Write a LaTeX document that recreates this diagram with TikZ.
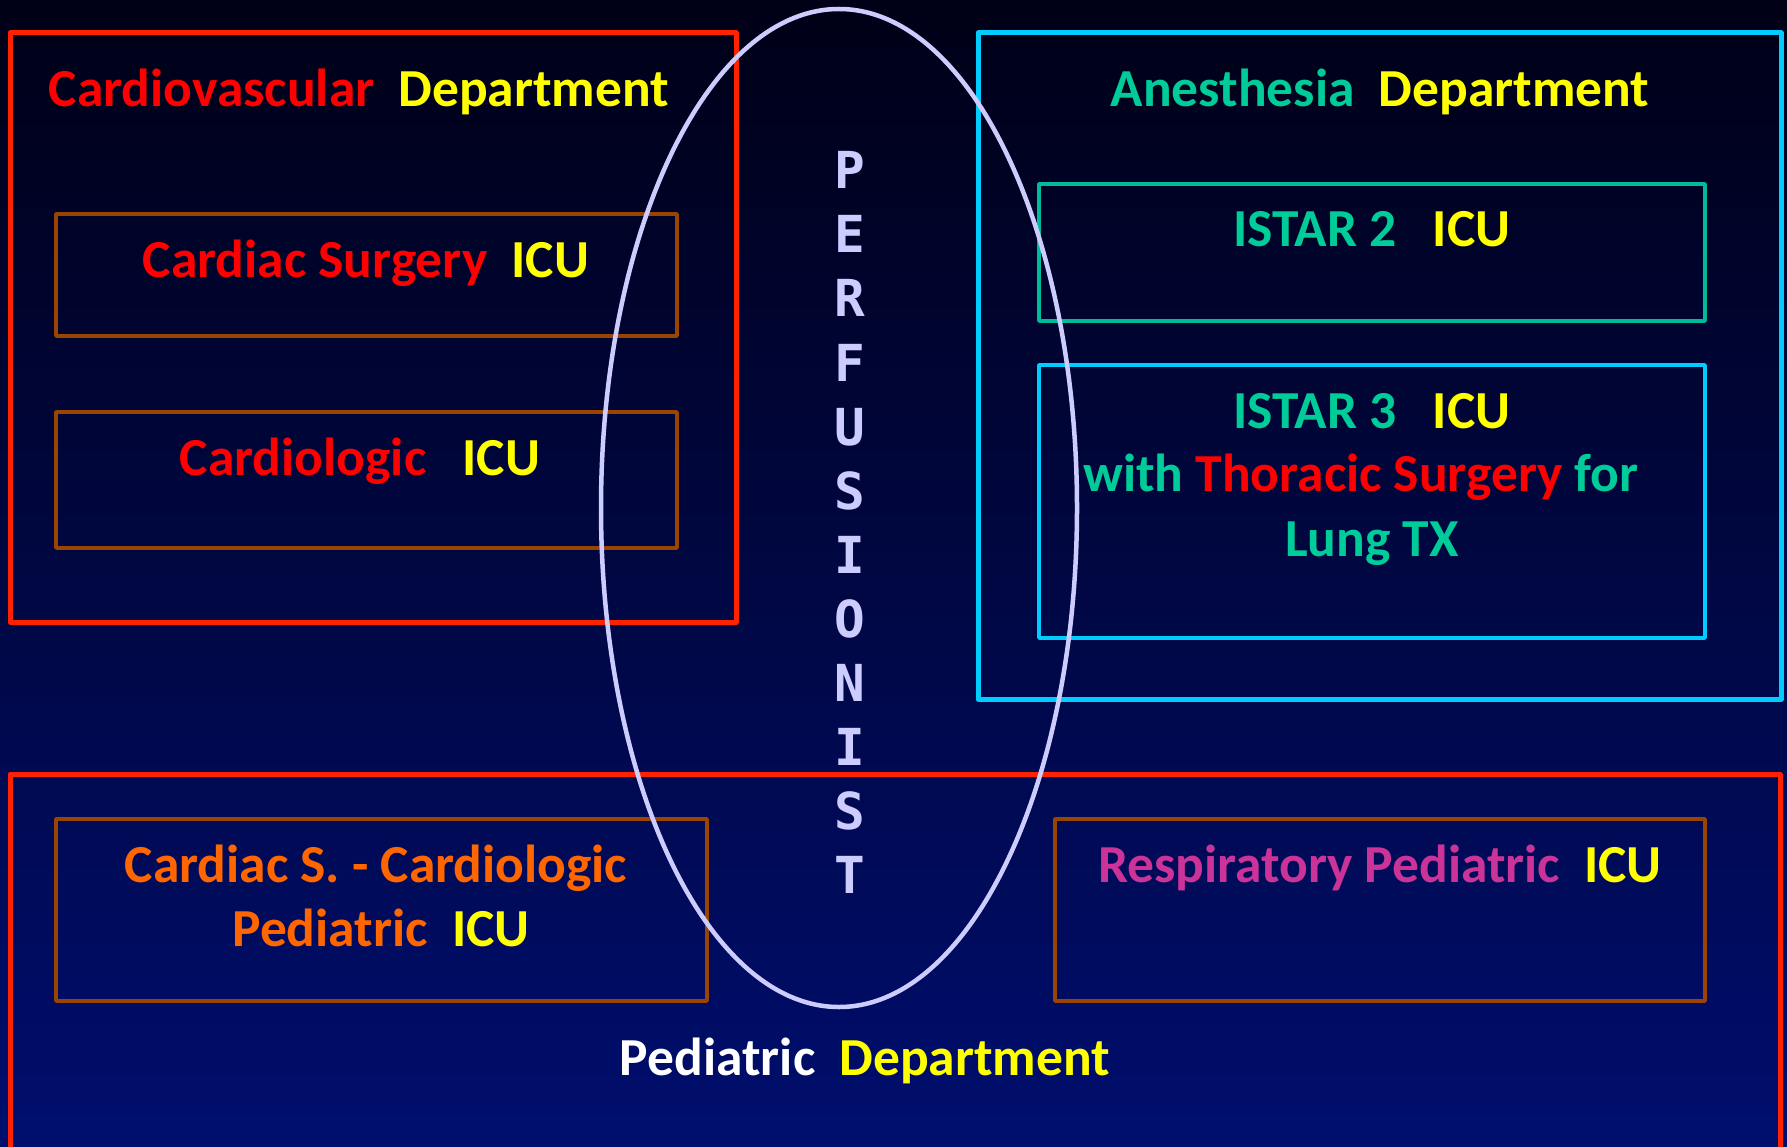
\documentclass[tikz,border=0pt]{standalone}
\usepackage{fontspec}
\setmainfont{Carlito}
\newfontfamily\perffont{DejaVu Sans Mono}
\usepackage{tikz}
\usetikzlibrary{shapes.geometric}

\begin{document}
\begin{tikzpicture}[line cap=round,line join=round,x=1pt,y=-1pt,
  deptbox/.style={draw=#1,line width=5pt,inner sep=0pt},
  icubox/.style={draw=#1,line width=3.5pt,inner sep=0pt},
  lbl/.style={anchor=base,inner sep=0pt,font=\bfseries\fontsize{53.5}{64}\selectfont},
  perfletter/.style={anchor=base,inner sep=0pt,color=ccccff,font=\perffont\bfseries\fontsize{51}{60}\selectfont}]
\definecolor{qqqqrw}{rgb}{0.,0.,0.0862745098}
\definecolor{qqreww}{rgb}{0.,0.0549019607,0.4313725490}
\definecolor{ffqqqq}{rgb}{1.,0.,0.}
\definecolor{ffffqq}{rgb}{1.,1.,0.}
\definecolor{qqcczz}{rgb}{0.,0.8,0.6}
\definecolor{ffwwqq}{rgb}{1.,0.4,0.}
\definecolor{ccttzz}{rgb}{0.8,0.2,0.6}
\definecolor{ffsqqq}{rgb}{1.,0.1333333333,0.}
\definecolor{zzttqq}{rgb}{0.6,0.2666666666,0.}
\definecolor{qqccff}{rgb}{0.,0.8,1.}
\definecolor{qqbbzz}{rgb}{0.,0.7333333333,0.6}
\definecolor{ccccff}{rgb}{0.8,0.8,1.}
\useasboundingbox (0,0) rectangle (1787,1147);
\clip (0,0) rectangle (1787,1147);
\fill[top color=qqqqrw,bottom color=qqreww] (0,0) rectangle (1787,1147);
% department boxes
\node[deptbox=ffsqqq,minimum width=726,minimum height=589] (cardio) at (373,327.5) {};
\node[deptbox=qqccff,minimum width=803,minimum height=666] (anest) at (1379.5,366) {};
\node[deptbox=ffsqqq,minimum width=1770,minimum height=386] (pedia) at (895,967) {};
% icu boxes
\node[icubox=zzttqq,minimum width=621,minimum height=122] (csbox) at (366.5,275) {};
\node[icubox=zzttqq,minimum width=621,minimum height=136] (clbox) at (366.5,480) {};
\node[icubox=qqbbzz,minimum width=666,minimum height=137] (istartwo) at (1372,252.5) {};
\node[icubox=qqccff,minimum width=666,minimum height=273] (istarthree) at (1372,501.5) {};
\node[icubox=zzttqq,minimum width=651,minimum height=182] (cpbox) at (381.5,910) {};
\node[icubox=zzttqq,minimum width=650,minimum height=182] (rpbox) at (1380,910) {};
% perfusionist
\node[draw=ccccff,line width=4.5pt,ellipse,inner sep=0pt,minimum width=476,minimum height=998] (perf) at (839,508) {};
\foreach \ch [count=\i from 0] in {P,E,R,F,U,S,I,O,N,I,S,T}
  \node[perfletter] (perf\i) at (850,189+64*\i) {\ch};
% labels
\node[lbl] (cvtitle) at (359,107) {\textcolor{ffqqqq}{Cardiovascular}~~\textcolor{ffffqq}{Department}};
\node[lbl] (cslabel) at (366,278) {\textcolor{ffqqqq}{Cardiac Surgery}~~\textcolor{ffffqq}{ICU}};
\node[lbl] (cllabel) at (360,475) {\textcolor{ffqqqq}{Cardiologic}~~~\textcolor{ffffqq}{ICU}};
\node[lbl] (antitle) at (1380,107) {\textcolor{qqcczz}{Anesthesia}~~\textcolor{ffffqq}{Department}};
\node[lbl] (istwolabel) at (1372,247) {\textcolor{qqcczz}{ISTAR 2}~~~\textcolor{ffffqq}{ICU}};
\node[lbl] (isthreelabel) at (1372,428) {\textcolor{qqcczz}{ISTAR 3}~~~\textcolor{ffffqq}{ICU}};
\node[lbl] (withlabel) at (1361,491) {\textcolor{qqcczz}{with} \textcolor{ffqqqq}{Thoracic Surgery} \textcolor{qqcczz}{for}};
\node[lbl] (lunglabel) at (1372,556) {\textcolor{qqcczz}{Lung TX}};
\node[lbl] (cplabel) at (376,882) {\textcolor{ffwwqq}{Cardiac S. - Cardiologic}};
\node[lbl] (cpicu) at (381,946) {\textcolor{ffwwqq}{Pediatric}~~\textcolor{ffffqq}{ICU}};
\node[lbl] (rplabel) at (1380,882) {\textcolor{ccttzz}{Respiratory Pediatric}~~\textcolor{ffffqq}{ICU}};
\node[lbl] (pdtitle) at (865,1075) {\textcolor{white}{Pediatric}~~\textcolor{ffffqq}{Department}};
\end{tikzpicture}
\end{document}
